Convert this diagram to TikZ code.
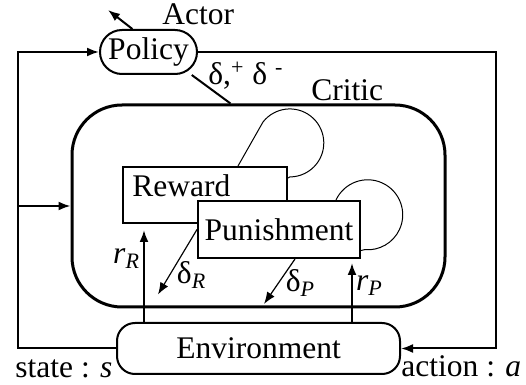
\documentclass[tikz,border=0pt]{standalone}
\usepackage{fontspec}
\setmainfont{Liberation Serif}
\usetikzlibrary{arrows.meta,positioning,calc}

\begin{document}
\begin{tikzpicture}[>={Latex[length=6pt,width=4.5pt]}, x=0.5pt, y=-0.5pt,
    font=\fontsize{15.75}{19}\selectfont,
    box/.style={draw, line width=1pt, inner sep=0pt},
    pill/.style={box, rounded corners=9pt},
    link/.style={line width=1pt},
    thinlink/.style={line width=0.6pt},
    loopline/.style={line width=0.5pt},
    tag/.style={anchor=base west, inner sep=0pt}]
  \useasboundingbox (0,0) rectangle (526,385);
  % Critic with its two parts
  \node[box, line width=1.5pt, rounded corners=25pt, minimum width=186.5pt,
        minimum height=101pt] (critic) at (258.5,206) {};
  \node[box, minimum width=82pt, minimum height=28pt,
        label={[anchor=north west, inner xsep=5pt, inner ysep=4pt]north west:Reward}]
        (reward) at (205,195) {};
  \node[box, fill=white, minimum width=81pt, minimum height=28.5pt]
        (punish) at (279,229.5) {Punishment};
  % Self loops
  \draw[loopline] ([xshift=-25pt]reward.north east) -- ++(25,-44)
    arc[start angle=142, end angle=-90, radius=17pt] -- ([yshift=8.5pt]reward.east);
  \draw[loopline] ([xshift=-12.5pt]punish.north east)
    arc[start angle=155, end angle=-95, radius=17.5pt] -- ([yshift=-10.5pt]punish.east);
  % Actor and environment
  \node[pill, rounded corners=11pt, minimum width=48.5pt, minimum height=22pt]
        (policy) at (148.5,52) {Policy};
  \node[pill, minimum width=141.5pt, minimum height=25.5pt]
        (env) at (258.5,348.5) {Environment};
  % Texts
  \node[tag] (actor) at (162,25) {Actor};
  \node[tag] (crit) at (311,101) {Critic};
  \node[tag] (delta) at (208,85) {δ,\textsuperscript{+} δ \textsuperscript{-}};
  \node[tag] (state) at (15,378) {state : \textit{s}};
  \node[tag] (action) at (401,377) {action : \textit{a}};
  % Outer loops
  \coordinate (lc) at (18,348.5);
  \coordinate (rc) at (496,348.5);
  \coordinate (out) at (108,10);
  \draw[link,->] (env.west) -- (lc) |- (policy.west);
  \draw[link,->] (lc |- critic.west) -- (critic.west);
  \draw[link,->] (policy.east) -| (rc) -- (env.east);
  \draw[link,->] (policy.125) -- (out);
  \draw[link] (policy.-28) -- ($(critic.north)+(-28,0)$);
  % Rewards and errors
  \coordinate (rRtop) at ([xshift=11pt,yshift=-3pt]reward.south west);
  \coordinate (rPtop) at ([xshift=-4.5pt,yshift=-2pt]punish.south east);
  \draw[link,->] (rRtop |- env.north) -- (rRtop)
    node[pos=.69, left, inner sep=1.5pt] (rR) {\textit{r}\textsubscript{\textit{R}}};
  \draw[link,->] (rPtop |- env.north) -- (rPtop)
    node[pos=.62, right, inner sep=1.5pt] (rP) {\textit{r}\textsubscript{\textit{P}}};
  \draw[thinlink,->] (punish.west) -- ++(-39,65)
    node[pos=.7, right] (dR) {δ\textsubscript{\textit{R}}};
  \draw[thinlink,->] ([xshift=8pt]punish.south) -- ++(-31,45)
    node[pos=.53, right] (dP) {δ\textsubscript{\textit{P}}};
\end{tikzpicture}
\end{document}
